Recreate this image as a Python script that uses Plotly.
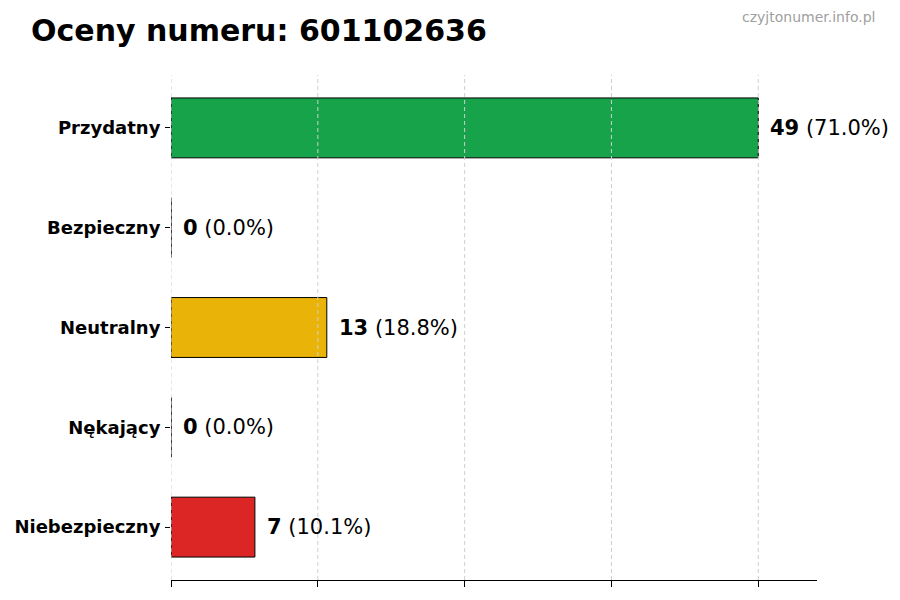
import plotly.graph_objects as go

# ratings for the number, top to bottom
categories = ["Przydatny", "Bezpieczny", "Neutralny", "Nękający", "Niebezpieczny"]
counts = [49, 0, 13, 0, 7]
bar_colors = ["#16a34a", "#6b7280", "#eab308", "#9333ea", "#dc2626"]

total = sum(counts)
percents = [c / total * 100 for c in counts]
x_max = max(counts) * 1.1
grid_ticks = [max(counts) * i / 4 for i in range(5)]

fig = go.Figure()

fig.add_trace(go.Bar(
    x=counts,
    y=categories,
    orientation="h",
    width=0.6,
    marker=dict(color=bar_colors, line=dict(color="black", width=1)),
    hoverinfo="skip",
))

# value labels to the right of every bar
for cat, c, p in zip(categories, counts, percents):
    fig.add_annotation(
        x=c, y=cat,
        text=f"<b>{c}</b> ({p:.1f}%)",
        xanchor="left", yanchor="middle",
        xshift=10, showarrow=False,
        font=dict(family="DejaVu Sans", size=21, color="black"),
    )

# dashed grid drawn over the bars, like the original
for g in grid_ticks:
    fig.add_shape(
        type="line", xref="x", yref="paper",
        x0=g, x1=g, y0=0, y1=1,
        line=dict(color="#cfcfcf", width=1, dash="4px,3px"),
        layer="above",
    )

# page has an 8px body margin, so the figure is a little smaller
fig.update_layout(
    width=892, height=592,
    paper_bgcolor="white", plot_bgcolor="white",
    margin=dict(l=163, r=83, t=67, b=20, autoexpand=False),
    showlegend=False,
    title=dict(
        text="<b>Oceny numeru: 601102636</b>",
        x=23 / 892, xanchor="left",
        y=1 - 22 / 592, yanchor="middle",
        font=dict(family="DejaVu Sans", size=30, color="black"),
    ),
)

fig.add_annotation(
    text="czyjtonumer.info.pl",
    xref="paper", yref="paper",
    x=(869 - 163) / 646, y=(572 - 9) / 505,
    xanchor="right", yanchor="middle",
    showarrow=False,
    font=dict(family="DejaVu Sans", size=14, color="#a0a0a0"),
)

fig.update_xaxes(
    range=[0, x_max],
    tickvals=grid_ticks,
    showticklabels=False,
    ticks="outside", ticklen=6, tickcolor="black",
    showgrid=False,
    showline=True, linecolor="black", linewidth=1,
    zeroline=False,
    automargin=False,
)

fig.update_yaxes(
    categoryorder="array", categoryarray=categories,
    autorange=False, range=[4.53, -0.53],
    ticks="outside", ticklen=5, tickcolor="black",
    ticklabelstandoff=1,
    tickfont=dict(family="DejaVu Sans", size=18, color="black", weight="bold"),
    showgrid=False, showline=False, zeroline=False,
    automargin=False,
)

fig.write_html("out.html")
